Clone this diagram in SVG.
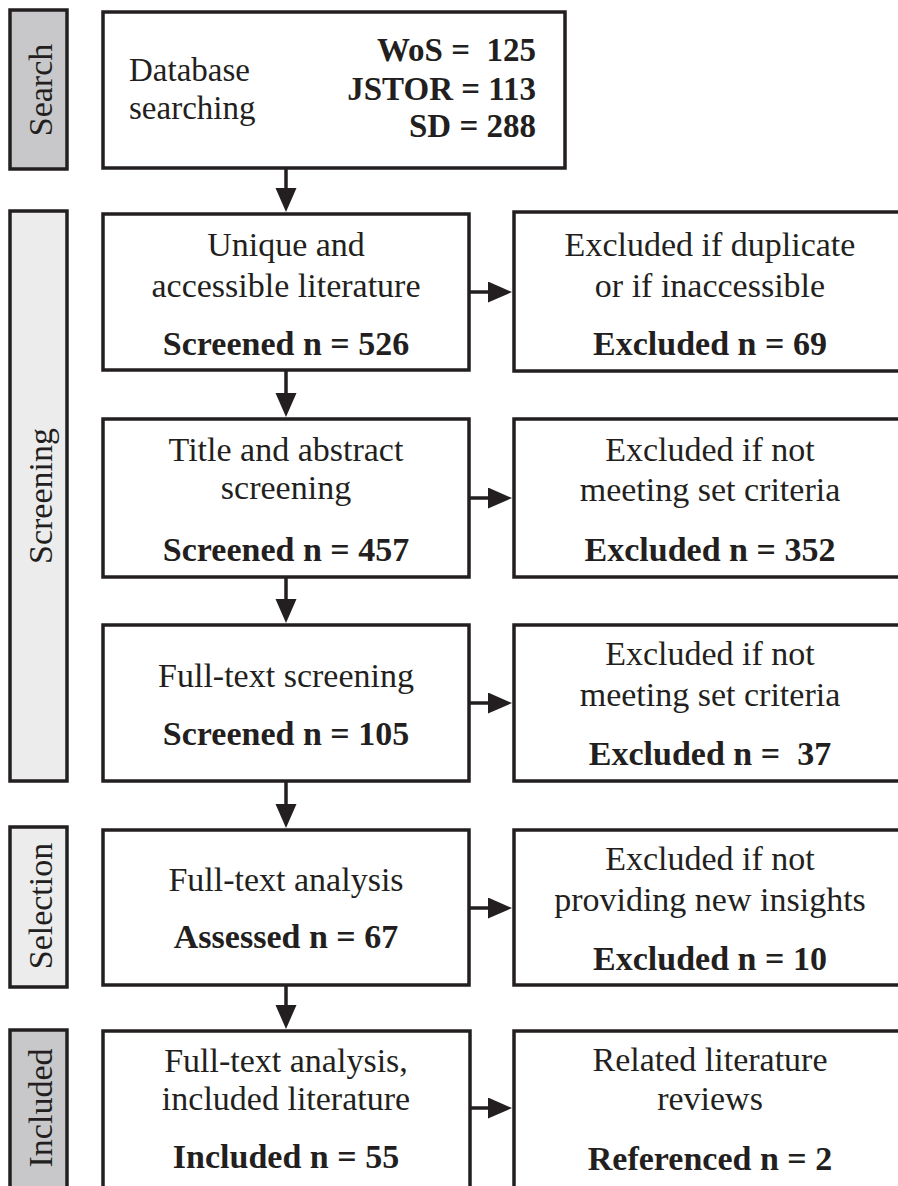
<svg xmlns="http://www.w3.org/2000/svg" width="898" height="1186" viewBox="0 0 898 1186">
<style>
.box{fill:#ffffff;stroke:#231f20;stroke-width:3.5}
.side-dark{fill:#c8c8ca;stroke:#231f20;stroke-width:3.5}
.side-light{fill:#ececec;stroke:#231f20;stroke-width:3.5}
.t{font-family:"Liberation Serif","Times New Roman",serif;font-size:34px;fill:#231f20;white-space:pre}
.b{font-weight:bold}
.m{text-anchor:middle}
.e{text-anchor:end}
.conn{stroke:#231f20;stroke-width:3.5;fill:none}
</style>
<defs>
<marker id="ah" markerUnits="userSpaceOnUse" markerWidth="26" markerHeight="22" refX="1" refY="10.5" orient="auto">
<path d="M0,0 L24,10.5 L0,21 Z" fill="#231f20"/>
</marker>
</defs>
<rect width="898" height="1186" fill="#ffffff"/>

<g id="side-search">
<rect class="side-dark" x="10" y="10" width="57" height="159"/>
<text class="t m" transform="translate(52,90) rotate(-90)">Search</text>
</g>
<g id="side-screening">
<rect class="side-light" x="10" y="211" width="57" height="570"/>
<text class="t m" transform="translate(52,496) rotate(-90)">Screening</text>
</g>
<g id="side-selection">
<rect class="side-light" x="10" y="827" width="57" height="160"/>
<text class="t m" transform="translate(52,906) rotate(-90)">Selection</text>
</g>
<g id="side-included">
<rect class="side-dark" x="10" y="1030" width="57" height="200"/>
<text class="t m" transform="translate(52,1108) rotate(-90)">Included</text>
</g>

<g id="database">
<rect class="box" x="103" y="12" width="462" height="156"/>
<text class="t" x="129" y="81" style="font-size:33px">Database</text>
<text class="t" x="129" y="119" style="font-size:33px">searching</text>
<text class="t b e" x="536" y="61" style="font-size:33px">WoS =  125</text>
<text class="t b e" x="536" y="100" style="font-size:33px">JSTOR = 113</text>
<text class="t b e" x="536" y="137" style="font-size:33px">SD = 288</text>
</g>

<g id="unique">
<rect class="box" x="103" y="214" width="366" height="156"/>
<text class="t m" x="286" y="256">Unique and</text>
<text class="t m" x="286" y="297">accessible literature</text>
<text class="t b m" x="286" y="355">Screened n = 526</text>
</g>
<g id="excluded-dup">
<rect class="box" x="514" y="212" width="400" height="159"/>
<text class="t m" x="710" y="256">Excluded if duplicate</text>
<text class="t m" x="710" y="297">or if inaccessible</text>
<text class="t b m" x="710" y="355">Excluded n = 69</text>
</g>

<g id="title-abstract">
<rect class="box" x="103" y="419" width="366" height="158"/>
<text class="t m" x="286" y="461">Title and abstract</text>
<text class="t m" x="286" y="499">screening</text>
<text class="t b m" x="286" y="561">Screened n = 457</text>
</g>
<g id="excluded-criteria-1">
<rect class="box" x="514" y="419" width="400" height="158"/>
<text class="t m" x="710" y="461">Excluded if not</text>
<text class="t m" x="710" y="501">meeting set criteria</text>
<text class="t b m" x="710" y="561">Excluded n = 352</text>
</g>

<g id="fulltext-screening">
<rect class="box" x="103" y="625" width="366" height="156"/>
<text class="t m" x="286" y="687">Full-text screening</text>
<text class="t b m" x="286" y="745">Screened n = 105</text>
</g>
<g id="excluded-criteria-2">
<rect class="box" x="514" y="625" width="400" height="156"/>
<text class="t m" x="710" y="665">Excluded if not</text>
<text class="t m" x="710" y="706">meeting set criteria</text>
<text class="t b m" x="710" y="765">Excluded n =  37</text>
</g>

<g id="fulltext-analysis">
<rect class="box" x="103" y="830" width="366" height="155"/>
<text class="t m" x="286" y="891">Full-text analysis</text>
<text class="t b m" x="286" y="948">Assessed n = 67</text>
</g>
<g id="excluded-insights">
<rect class="box" x="514" y="830" width="400" height="155"/>
<text class="t m" x="710" y="870">Excluded if not</text>
<text class="t m" x="710" y="911">providing new insights</text>
<text class="t b m" x="710" y="970">Excluded n = 10</text>
</g>

<g id="included-lit">
<rect class="box" x="103" y="1031" width="367" height="200"/>
<text class="t m" x="286" y="1072">Full-text analysis,</text>
<text class="t m" x="286" y="1110">included literature</text>
<text class="t b m" x="286" y="1168">Included n = 55</text>
</g>
<g id="related-reviews">
<rect class="box" x="514" y="1031" width="400" height="200"/>
<text class="t m" x="710" y="1071">Related literature</text>
<text class="t m" x="710" y="1110">reviews</text>
<text class="t b m" x="710" y="1170">Referenced n = 2</text>
</g>

<g id="connectors">
<line class="conn" x1="286" y1="168" x2="286" y2="189" marker-end="url(#ah)"/>
<line class="conn" x1="286" y1="370" x2="286" y2="394" marker-end="url(#ah)"/>
<line class="conn" x1="286" y1="577" x2="286" y2="600" marker-end="url(#ah)"/>
<line class="conn" x1="286" y1="781" x2="286" y2="805" marker-end="url(#ah)"/>
<line class="conn" x1="286" y1="985" x2="286" y2="1006" marker-end="url(#ah)"/>
<line class="conn" x1="469" y1="292" x2="489" y2="292" marker-end="url(#ah)"/>
<line class="conn" x1="469" y1="498" x2="489" y2="498" marker-end="url(#ah)"/>
<line class="conn" x1="469" y1="703" x2="489" y2="703" marker-end="url(#ah)"/>
<line class="conn" x1="469" y1="908" x2="489" y2="908" marker-end="url(#ah)"/>
<line class="conn" x1="470" y1="1108" x2="489" y2="1108" marker-end="url(#ah)"/>
</g>
</svg>
